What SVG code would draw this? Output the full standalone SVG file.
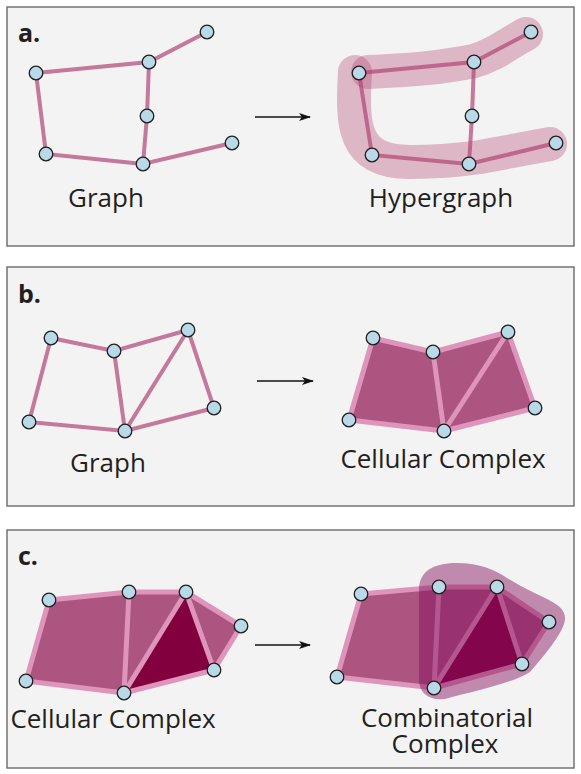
<svg xmlns="http://www.w3.org/2000/svg" width="581" height="774" viewBox="0 0 581 774">
<defs>
<marker id="ah" viewBox="0 0 12 8" refX="11" refY="4" markerWidth="12" markerHeight="8" markerUnits="userSpaceOnUse" orient="auto">
<path d="M0,0 L12,4 L0,8 L3,4 Z" fill="#111"/>
</marker>
<style>
.panel{fill:#f3f3f3;stroke:#6a6a6a;stroke-width:1.4}
.lbl{font-family:"Open Sans","Liberation Sans",sans-serif;font-size:26px;fill:#231f20;text-anchor:middle}
.tag{font-family:"Open Sans","Liberation Sans",sans-serif;font-size:25px;font-weight:bold;fill:#231f20}
.ge{stroke:#c4789b;stroke-width:4;stroke-linecap:round;fill:none}
.hb{fill:none;stroke:#b4426f;stroke-opacity:0.34;stroke-linecap:round;stroke-linejoin:round}
.face{fill:#ac5581}
.dark{fill:#83003e}
.ce{stroke:#df95bb;stroke-width:5;stroke-linecap:round;stroke-linejoin:round;fill:none}
.nd{fill:#b9d9e6;stroke:#1e1e1e;stroke-width:1.3}
.arr{stroke:#111;stroke-width:1.6;fill:none}
.cb{fill:#820a5a;fill-opacity:0.45}
</style>
</defs>

<g id="panel-a">
<rect class="panel" x="7" y="7" width="567" height="239"/>
<text class="tag" x="18" y="42">a.</text>
</g>
<g id="panel-b">
<rect class="panel" x="7" y="267" width="567" height="239"/>
<text class="tag" x="18" y="303">b.</text>
</g>
<g id="panel-c">
<rect class="panel" x="7" y="530" width="567" height="238"/>
<text class="tag" x="18" y="565">c.</text>
</g>

<!-- a: graph -->
<g id="a-graph-edges" class="connectors">
<path class="ge" d="M36,73 L149,62 L207,32 M149,62 L147,116 L143,164 L232,143 M36,73 L46,154 L143,164"/>
</g>
<g id="a-graph-nodes">
<circle class="nd" cx="36" cy="73" r="6.8"/>
<circle class="nd" cx="149" cy="62" r="6.8"/>
<circle class="nd" cx="207" cy="32" r="6.8"/>
<circle class="nd" cx="147" cy="116" r="6.8"/>
<circle class="nd" cx="46" cy="154" r="6.8"/>
<circle class="nd" cx="143" cy="164" r="6.8"/>
<circle class="nd" cx="232" cy="143" r="6.8"/>
</g>
<text class="lbl" x="106" y="207">Graph</text>

<g id="connectors">
<line class="arr" x1="255" y1="117" x2="310" y2="117" marker-end="url(#ah)"/>
<line class="arr" x1="257" y1="381" x2="313" y2="381" marker-end="url(#ah)"/>
<line class="arr" x1="255" y1="645" x2="310" y2="645" marker-end="url(#ah)"/>
</g>

<!-- a: hypergraph -->
<g id="a-hyper-edges">
<path class="ge" d="M359,73 L474,62 L531,32 M474,62 L472,116 L469,164 L556,143 M359,73 L372,155 L469,164"/>
</g>
<g id="a-hyperedges">
<path class="hb" stroke-width="34" d="M368,72 C410,70 440,68 474,61 C496,55 510,42 526,34"/>
<path class="hb" stroke-width="34" d="M355,72 C352,125 352,162 410,162 C440,162 460,160 480,157 L550,144"/>
</g>
<g id="a-hyper-nodes">
<circle class="nd" cx="359" cy="73" r="6.8"/>
<circle class="nd" cx="474" cy="62" r="6.8"/>
<circle class="nd" cx="531" cy="32" r="6.8"/>
<circle class="nd" cx="472" cy="116" r="6.8"/>
<circle class="nd" cx="372" cy="155" r="6.8"/>
<circle class="nd" cx="469" cy="164" r="6.8"/>
<circle class="nd" cx="556" cy="143" r="6.8"/>
</g>
<text class="lbl" x="441" y="207">Hypergraph</text>

<!-- b: graph -->
<g id="b-graph-edges">
<path class="ge" d="M51,338 L114,351 L188,330 L214,408 L125,431 L29,422 Z M114,351 L125,431 L188,330"/>
</g>
<g id="b-graph-nodes">
<circle class="nd" cx="51" cy="338" r="6.8"/>
<circle class="nd" cx="114" cy="351" r="6.8"/>
<circle class="nd" cx="188" cy="330" r="6.8"/>
<circle class="nd" cx="29" cy="422" r="6.8"/>
<circle class="nd" cx="125" cy="431" r="6.8"/>
<circle class="nd" cx="214" cy="408" r="6.8"/>
</g>
<text class="lbl" x="108" y="472">Graph</text>

<!-- b: cellular complex -->
<g id="b-cells">
<path class="face" d="M373,338 L433,352 L508,332 L535,408 L444,431 L349,420 Z"/>
<path class="ce" d="M373,338 L433,352 L508,332 L535,408 L444,431 L349,420 Z M433,352 L444,431 L508,332"/>
</g>
<g id="b-cell-nodes">
<circle class="nd" cx="373" cy="338" r="6.8"/>
<circle class="nd" cx="433" cy="352" r="6.8"/>
<circle class="nd" cx="508" cy="332" r="6.8"/>
<circle class="nd" cx="349" cy="420" r="6.8"/>
<circle class="nd" cx="444" cy="431" r="6.8"/>
<circle class="nd" cx="535" cy="408" r="6.8"/>
</g>
<text class="lbl" x="443" y="468">Cellular Complex</text>

<!-- c: cellular complex -->
<g id="c-cells">
<path class="face" d="M49,600 L129,592 L186,592 L241,626 L214,670 L124,693 L26,681 Z"/>
<path class="dark" d="M186,592 L214,670 L124,693 Z"/>
<path class="ce" d="M49,600 L129,592 L186,592 L241,626 L214,670 L124,693 L26,681 Z M129,592 L124,693 L186,592 L214,670"/>
</g>
<g id="c-cell-nodes">
<circle class="nd" cx="49" cy="600" r="6.8"/>
<circle class="nd" cx="129" cy="592" r="6.8"/>
<circle class="nd" cx="186" cy="592" r="6.8"/>
<circle class="nd" cx="241" cy="626" r="6.8"/>
<circle class="nd" cx="214" cy="670" r="6.8"/>
<circle class="nd" cx="124" cy="693" r="6.8"/>
<circle class="nd" cx="26" cy="681" r="6.8"/>
</g>
<text class="lbl" x="113" y="728">Cellular Complex</text>

<!-- c: combinatorial complex -->
<g id="c-comb">
<path class="face" d="M361,594 L439,587 L497,587 L549,622 L522,664 L434,688 L337,677 Z"/>
<path class="dark" d="M497,587 L522,664 L434,688 Z"/>
<path class="ce" d="M361,594 L439,587 L497,587 L549,622 L522,664 L434,688 L337,677 Z M439,587 L434,688 L497,587 L522,664"/>
<path class="cb" d="M419,590 C419,572 432,563 457,563 C480,563 495,570 507,578 C520,586 532,592 545,598 C560,605 568,612 564,624 C560,636 545,655 530,672 C515,682 480,690 445,699 C428,701 419,692 419,680 Z"/>
</g>
<g id="c-comb-nodes">
<circle class="nd" cx="361" cy="594" r="6.8"/>
<circle class="nd" cx="439" cy="587" r="6.8"/>
<circle class="nd" cx="497" cy="587" r="6.8"/>
<circle class="nd" cx="549" cy="622" r="6.8"/>
<circle class="nd" cx="522" cy="664" r="6.8"/>
<circle class="nd" cx="434" cy="688" r="6.8"/>
<circle class="nd" cx="337" cy="677" r="6.8"/>
</g>
<text class="lbl" x="447" y="727">Combinatorial</text>
<text class="lbl" x="445" y="753">Complex</text>
</svg>
